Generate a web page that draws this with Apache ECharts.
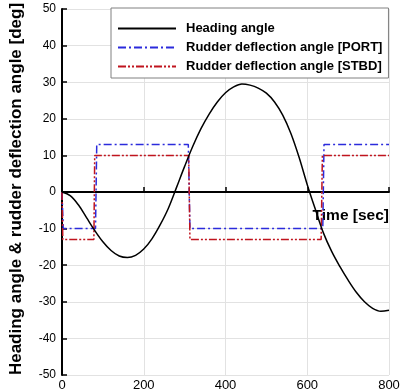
<!DOCTYPE html>
<html>
<head>
<meta charset="utf-8">
<script src="https://cdn.jsdelivr.net/npm/echarts@6/dist/echarts.min.js"></script>
<style>html,body{margin:0;padding:0;background:#fff}#c{width:403px;height:392px}</style>
</head>
<body>
<div id="c"></div>
<script>
// Heading angle [deg] sampled every 20 s
var headingTime = [0,20,40,60,80,100,120,140,160,180,200,220,240,260,280,300,320,340,360,380,400,420,440,460,480,500,520,540,560,580,600,620,640,660,680,700,720,740,760,780,800];
var headingVals = [0,-1.0,-3.5,-7.0,-10.5,-13.6,-16.0,-17.5,-17.9,-17.3,-15.6,-12.8,-9.0,-4.5,1.2,7.0,12.5,17.3,21.3,24.6,27.1,28.7,29.5,29.2,28.4,27.0,24.6,21.0,16.0,9.5,2.0,-4.8,-11.3,-16.3,-20.4,-24.1,-27.4,-30.0,-31.8,-32.6,-32.3];
// Rudder deflection [deg]
var portTime = [0,3,82,85,309,313,638,641,800];
var portVals = [0,-10,-10,13,13,-10,-10,13,13];
var stbdTime = [0,2,78,80,310,313,634,637,800];
var stbdVals = [0,-13,-13,10,10,-13,-13,10,10];
var xTicks = [0,200,400,600,800];
var yTicks = [-50,-40,-30,-20,-10,0,10,20,30,40,50];
var seriesNames = ['Heading angle','Rudder deflection angle [PORT]','Rudder deflection angle [STBD]'];

function pairs(t, v){ return t.map(function(x,i){ return [x, v[i]]; }); }

var chart = echarts.init(document.getElementById('c'));
var F = '"Liberation Sans", Arial, sans-serif';
chart.setOption({
  animation: false,
  backgroundColor: '#fff',
  grid: {left: 61, right: 14, top: 9, bottom: 11},
  legend: {
    left: 111, top: 8, orient: 'vertical',
    data: seriesNames,
    itemWidth: 58, itemHeight: 14, itemGap: 6,
    padding: [14, 6, 5, 6],
    borderColor: '#808080', borderWidth: 1,
    backgroundColor: '#fff',
    itemStyle: {opacity: 0},
    textStyle: {fontFamily: F, fontWeight: 'bold', fontSize: 13, color: '#000', padding: [0,0,0,5]}
  },
  xAxis: {
    type: 'value', min: xTicks[0], max: xTicks[xTicks.length-1], interval: 200,
    name: 'Time [sec]', nameLocation: 'end', nameGap: 0,
    nameTextStyle: {fontFamily: F, fontWeight: 'bold', fontSize: 15.5, color: '#000', align: 'right', verticalAlign: 'top', padding: [16,0,0,0]},
    axisLine: {onZero: true, lineStyle: {color: '#000', width: 2}},
    axisTick: {inside: true, length: 5, lineStyle: {color: '#000', width: 1.5}},
    axisLabel: {fontFamily: F, fontSize: 13, color: '#000', margin: 4},
    splitLine: {show: true, lineStyle: {color: '#e2e2e2', width: 1}}
  },
  yAxis: {
    type: 'value', min: yTicks[0], max: yTicks[yTicks.length-1], interval: 10,
    name: 'Heading angle & rudder deflection angle [deg]', nameLocation: 'middle', nameGap: 37,
    nameTextStyle: {fontFamily: F, fontWeight: 'bold', fontSize: 17, color: '#000', padding: [0,0,0,6]},
    axisLine: {show: true, lineStyle: {color: '#000', width: 2}},
    axisTick: {show: true, inside: true, length: 5, lineStyle: {color: '#000', width: 1.5}},
    axisLabel: {fontFamily: F, fontSize: 12, color: '#000', margin: 6},
    splitLine: {show: true, lineStyle: {color: '#e2e2e2', width: 1}}
  },
  series: [
    {name: seriesNames[0], type: 'line', data: pairs(headingTime, headingVals), smooth: 0.35, showSymbol: false, symbol: 'none',
     lineStyle: {color: '#000', width: 1.5}, itemStyle: {color: '#000'}, z: 4},
    {name: seriesNames[1], type: 'line', data: pairs(portTime, portVals), showSymbol: false, symbol: 'none',
     lineStyle: {color: '#2b2bdc', width: 1.5, type: [8,3,2,3]}, itemStyle: {color: '#2b2bdc'}, z: 3},
    {name: seriesNames[2], type: 'line', data: pairs(stbdTime, stbdVals), showSymbol: false, symbol: 'none',
     lineStyle: {color: '#c0141e', width: 1.5, type: [8,2,2,2,2,2]}, itemStyle: {color: '#c0141e'}, z: 3}
  ]
});
</script>
</body>
</html>
